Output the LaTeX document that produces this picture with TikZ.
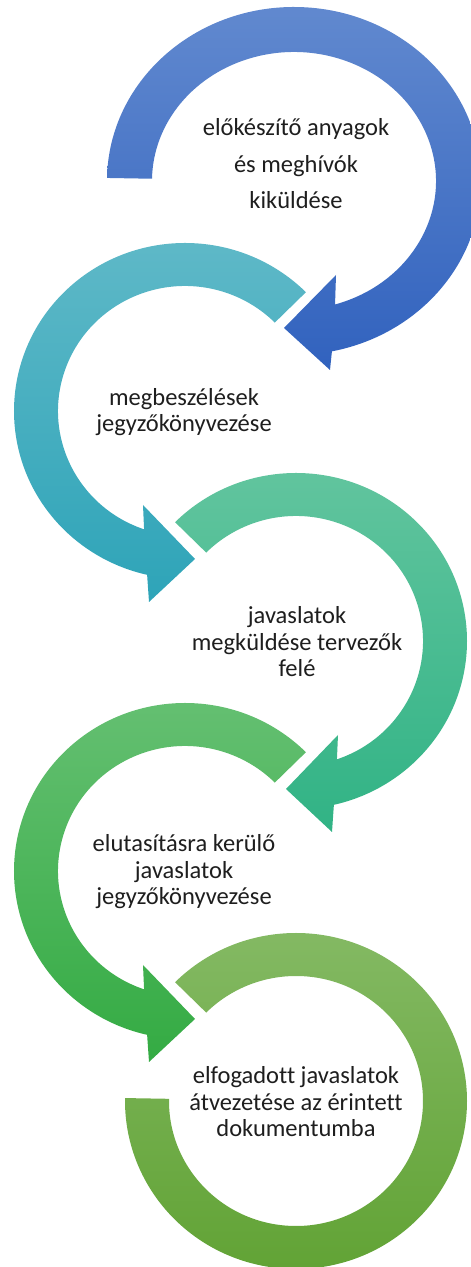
\documentclass[tikz,border=0pt]{standalone}
\usepackage{fontspec}
\setmainfont{Carlito}[Ligatures=NoCommon]
\usetikzlibrary{calc}
\definecolor{r1t}{HTML}{6189CF}
\definecolor{r1b}{HTML}{3162BE}
\definecolor{r2t}{HTML}{60B9C8}
\definecolor{r2b}{HTML}{2EA4B8}
\definecolor{r3t}{HTML}{63C59F}
\definecolor{r3b}{HTML}{31B385}
\definecolor{r4t}{HTML}{66C073}
\definecolor{r4b}{HTML}{34AB43}
\definecolor{r5t}{HTML}{85BA65}
\definecolor{r5b}{HTML}{60A233}
\definecolor{txt}{HTML}{1E1E1E}
\tikzset{
  lbl/.style={align=center, text=txt, inner sep=0pt, font=\fontsize{24.5}{26.5}\selectfont},
  lblwide/.style={align=center, text=txt, inner sep=0pt, font=\fontsize{24.5}{36.5}\selectfont}
}
\begin{document}
\begin{tikzpicture}[x=1pt,y=1pt]
\useasboundingbox (0,0) rectangle (471,1267);
\clip (0,0) rectangle (471,1267);
\coordinate (c1) at (294,1086);
\coordinate (c2) at (185,856);
\coordinate (c3) at (296,626);
\coordinate (c4) at (185,396);
\coordinate (c5) at (296,166);
% ring 1
\shade[top color=r1t, bottom color=r1b]
  ($(c1)+(179:187pt and 174pt)$) arc[start angle=179, end angle=-78.3, x radius=187pt, y radius=174pt]
  -- ($(c1)+(36,-189)$) -- ($(c1)+(-10,-147)$) -- ($(c1)+(42,-94)$)
  -- ($(c1)+(-73.2:142pt and 129pt)$) arc[start angle=-73.2, end angle=179, x radius=142pt, y radius=129pt] -- cycle;
% ring 2
\shade[top color=r2t, bottom color=r2b]
  ($(c2)+(45:171pt and 168pt)$) arc[start angle=45, end angle=257.2, x radius=171pt, y radius=168pt]
  -- ($(c2)+(-36,-191)$) -- ($(c2)+(10,-148)$) -- ($(c2)+(-42,-94)$)
  -- ($(c2)+(251.2:127pt and 125pt)$) arc[start angle=251.2, end angle=45, x radius=127pt, y radius=125pt] -- cycle;
% ring 3
\shade[top color=r3t, bottom color=r3b]
  ($(c3)+(135:171pt and 168pt)$) arc[start angle=135, end angle=-77.2, x radius=171pt, y radius=168pt]
  -- ($(c3)+(36,-191)$) -- ($(c3)+(-10,-148)$) -- ($(c3)+(42,-94)$)
  -- ($(c3)+(-71.2:127pt and 125pt)$) arc[start angle=-71.2, end angle=135, x radius=127pt, y radius=125pt] -- cycle;
% ring 4
\shade[top color=r4t, bottom color=r4b]
  ($(c4)+(45:171pt and 168pt)$) arc[start angle=45, end angle=257.2, x radius=171pt, y radius=168pt]
  -- ($(c4)+(-36,-191)$) -- ($(c4)+(10,-148)$) -- ($(c4)+(-42,-94)$)
  -- ($(c4)+(251.2:127pt and 125pt)$) arc[start angle=251.2, end angle=45, x radius=127pt, y radius=125pt] -- cycle;
% ring 5
\shade[top color=r5t, bottom color=r5b]
  ($(c5)+(135:171pt and 168pt)$) arc[start angle=135, end angle=-181, x radius=171pt, y radius=168pt]
  -- ($(c5)+(-181:127pt and 125pt)$) arc[start angle=-181, end angle=135, x radius=127pt, y radius=125pt] -- cycle;
% labels
\node[lblwide] (t1) at (296,1103) {előkészítő anyagok\\és meghívók\\kiküldése};
\node[lbl] (t2) at (184,855) {megbeszélések\\jegyzőkönyvezése};
\node[lbl] (t3) at (297,625) {javaslatok\\megküldése tervezők\\felé};
\node[lbl] (t4) at (184,395) {elutasításra kerülő\\javaslatok\\jegyzőkönyvezése};
\node[lbl] (t5) at (296,165) {elfogadott javaslatok\\átvezetése az érintett\\dokumentumba};
\end{tikzpicture}
\end{document}
